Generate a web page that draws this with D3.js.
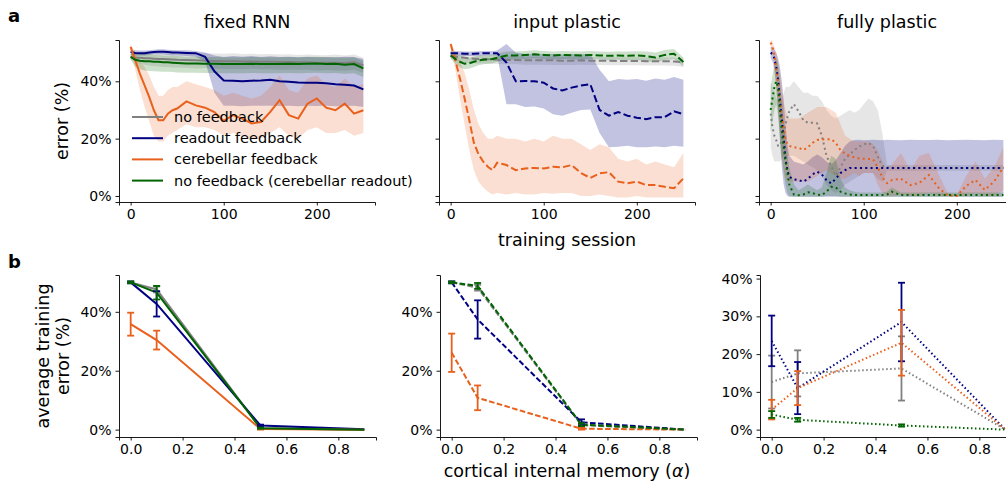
<!DOCTYPE html>
<html>
<head>
<meta charset="utf-8">
<script src="https://cdn.jsdelivr.net/npm/d3@7"></script>
<style>
  body { margin: 0; background: #fff; }
  svg text { font-family: "DejaVu Sans", sans-serif; fill: #000; }
</style>
</head>
<body>
<div id="fig"></div>
<script>
// ---- data: training curves (error %, mean and band) ----
var sessions = [0,5,10,15,20,25,30,35,40,45,50,60,70,80,90,100,110,120,130,140,150,160,170,180,190,200,210,220,230,240,250];
var sessionsFull = [0,2,4,6,8,10,12,14,16,18,20,25,30,35,40,45,50,55,60,65,70,75,80,85,90,95,100,105,110,115,120,125,130,140,150,160,170,180,190,200,210,220,230,240,250];

// fixed RNN
var fixedNoFb   = [48.5,48.3,48.2,48.0,48.0,47.9,47.8,47.8,47.7,47.6,47.5,47.4,47.3,47.2,47.1,47.0,47.0,46.9,46.9,46.8,46.8,46.7,46.7,46.6,46.6,46.5,46.5,46.5,46.4,46.6,45.5];
var fixedNoFbLo = [47.5,46.8,46.2,45.8,45.5,45.3,45.2,45.0,45.0,44.8,44.8,44.7,44.5,44.6,44.4,44.3,44.3,44.2,44.4,44.2,44.2,44.0,44.1,44.0,44.0,43.8,43.9,43.8,43.7,44.0,43.0];
var fixedNoFbHi = [49.5,49.8,50.0,50.0,50.2,50.0,50.0,50.2,50.0,50.1,50.0,49.8,49.9,49.8,49.7,49.6,49.8,49.5,49.6,49.4,49.5,49.3,49.4,49.2,49.3,49.2,49.1,49.3,49.0,49.3,48.2];
var fixedReadout   = [50.2,49.9,49.8,49.8,50.0,50.2,50.3,50.3,50.2,50.0,50.0,49.9,49.8,48.5,43.5,40.3,40.2,40.0,40.2,40.3,40.5,40.0,39.8,39.6,39.5,39.5,39.3,39.0,38.8,38.5,37.2];
var fixedReadoutLo = [49.0,49.0,49.0,49.0,49.2,49.3,49.3,49.3,49.2,49.0,49.0,48.8,48.6,47.0,36.0,31.5,31.5,31.3,31.5,31.5,31.5,31.4,31.5,31.3,31.5,31.4,31.5,31.3,31.4,31.5,31.0];
var fixedReadoutHi = [51.0,50.8,50.7,50.7,50.8,51.0,51.2,51.2,51.0,50.9,50.8,50.8,50.6,50.0,49.0,48.5,48.8,48.6,48.8,48.5,48.7,48.5,48.6,48.4,48.6,48.4,48.5,48.3,48.6,48.5,47.8];
var fixedCereb   = [52.0,47.3,42.6,38.6,34.5,29.9,26.4,26.4,28.7,29.9,30.5,33.0,31.6,30.8,29.3,26.2,28.2,27.0,25.3,25.8,29.3,33.4,28.2,27.0,32.2,34.0,30.8,29.9,32.2,28.7,29.9];
var fixedCerebLo = [51,44,37,31,26,21,19,19,21,22,23,25,24,24,23,21,22,21,20,20,22,24,21,20,23,24,22,22,23,21,22];
var fixedCerebHi = [53,50,47,45,42,38,35,35,37,38,38,40,39,38,37,35,36,35,34,35,38,42,37,36,41,42,39,38,41,38,39];
var fixedCbRead   = [48.5,47.5,47.2,47.0,47.0,46.8,46.8,46.6,46.6,46.5,46.4,46.2,46.2,46.1,46.1,46.0,46.0,46.0,46.1,46.0,46.0,46.0,46.1,46.0,46.1,46.2,46.0,46.1,45.8,46.0,44.5];
var fixedCbReadLo = [47.5,45.0,44.2,43.8,43.6,43.5,43.4,43.3,43.3,43.2,43.1,43.0,43.0,42.9,42.9,42.8,42.8,42.8,42.9,42.8,42.8,42.8,42.9,42.8,42.9,43.0,42.8,42.9,42.6,42.8,41.5];
var fixedCbReadHi = [49.5,49.5,49.7,49.5,49.4,49.2,49.2,49.0,49.0,48.9,48.8,48.6,48.6,48.5,48.5,48.4,48.4,48.4,48.5,48.4,48.4,48.4,48.5,48.4,48.5,48.6,48.4,48.5,48.2,48.4,47.0];

// input plastic
var inputNoFb   = [48.8,48.6,48.4,48.2,48.0,47.9,47.8,47.8,47.7,47.6,47.5,47.4,47.4,47.3,47.3,47.3,47.3,47.2,47.2,47.3,47.2,47.2,47.2,47.1,47.1,47.1,47.0,47.0,47.0,46.9,46.6];
var inputNoFbLo = [47.8,47.2,46.8,46.5,46.4,46.3,46.2,46.2,46.1,46.0,46.0,45.9,45.9,45.8,45.8,45.8,45.7,45.7,45.7,45.8,45.7,45.7,45.6,45.6,45.6,45.6,45.5,45.5,45.5,45.4,45.0];
var inputNoFbHi = [49.6,49.8,49.7,49.5,49.3,49.2,49.1,49.1,49.0,48.9,48.8,48.7,48.7,48.6,48.6,48.6,48.6,48.5,48.5,48.6,48.5,48.5,48.5,48.4,48.4,48.4,48.3,48.3,48.3,48.2,47.9];
var inputReadout   = [49.8,49.8,49.7,49.6,49.6,49.6,49.7,49.8,49.8,49.8,49.8,46.5,40.0,40.1,40.0,39.5,37.5,36.8,37.8,38.5,39.0,30.0,28.0,29.3,28.0,27.3,26.8,27.5,27.5,29.5,28.5];
var inputReadoutLo = [49.0,49.0,48.9,48.8,48.8,48.8,48.9,49.0,49.0,49.0,48.9,32.0,32.0,31.0,31.2,30.5,28.5,28.0,29.0,30.0,30.2,22.0,17.0,17.2,17.5,17.0,17.0,17.3,17.0,17.5,17.2];
var inputReadoutHi = [50.6,50.6,50.5,50.4,50.4,50.4,50.5,50.6,50.6,50.6,50.7,53.0,50.0,49.5,49.6,49.4,49.5,49.3,49.5,49.4,49.5,44.0,40.0,40.8,40.5,40.8,40.2,41.0,40.5,41.5,40.5];
var inputCereb   = [53.0,47.3,41.0,34.0,26.5,18.5,14.5,12.0,10.2,9.0,11.6,10.8,9.0,9.6,9.8,9.6,10.2,10.0,10.8,8.0,6.3,7.9,8.3,5.0,4.4,5.0,3.8,3.8,3.2,2.7,6.1];
var inputCerebLo = [52,44,34,25,16,9,5,3,1.5,0.5,1,0.5,1,0.5,0.5,1,0.8,1,1,0,0,0.5,0,-0.5,-0.5,0,-0.5,-0.5,-0.5,-0.5,-0.5];
var inputCerebHi = [54,50,47,43,37,30,25,22,20,20,21,20,20,19,20,19,21,20,20,18,16,18,17,13,12,13,11,12,11,10,15];
var inputCbRead   = [49.0,47.8,46.8,46.1,46.3,46.8,47.3,47.5,47.6,47.8,48.2,49.0,49.0,49.2,49.4,49.2,49.0,49.2,49.1,49.0,49.2,49.0,48.9,49.0,48.9,49.0,48.8,48.3,49.2,49.6,46.7];
var inputCbReadLo = [48.0,46.0,44.8,44.2,44.5,45.0,45.6,45.9,46.1,46.3,46.7,47.5,47.6,47.8,48.0,47.8,47.6,47.8,47.7,47.6,47.8,47.6,47.4,47.5,47.3,47.4,47.1,46.6,47.4,47.8,45.2];
var inputCbReadHi = [50.0,49.6,48.8,48.0,48.1,48.6,49.0,49.1,49.1,49.3,49.7,50.4,50.4,50.6,50.8,50.6,50.4,50.6,50.5,50.4,50.6,50.4,50.3,50.4,50.4,50.5,50.4,50.0,50.9,51.3,48.3];

// fully plastic
var fullNoFb   = [28.7,24,21,19.5,17.5,17.5,19.5,22,25,27.5,29.5,32,29.5,26.5,25.5,25.5,25.3,21,14,10.5,7,10,13,14.5,16,17.2,18,18.5,17.5,13.7,10.5,10,9.8,9.8,9.8,9.8,9.8,9.8,9.8,9.8,9.8,9.8,9.8,9.8,9.8];
var fullNoFbLo = [17,14,12,12,12,12,13,14,14,14,14,14,13,12,11,10,9,7,4,2,1,2,4,5,6,7,8,8,8,6,5,8.8,8.8,8.8,8.8,8.8,8.8,8.8,8.8,8.8,8.8,8.8,8.8,8.8,8.8];
var fullNoFbHi = [40,38,36,34,33,33,34,36,38,38,38,40,38,36,36,35,35,33,30,28,27,28,29,30,29,30,32,34,33,30,22,10.8,10.8,10.8,10.8,10.8,10.8,10.8,10.8,10.8,10.8,10.8,10.8,10.8,10.8];
var fullReadout   = [50,49.5,48,45,40.5,34,27,20,13,9,6.7,5.8,5.5,5,6,7.5,8.5,7.5,5.5,4.4,6,8,9,9.8,9.8,9.8,9.8,9.8,9.8,9.8,9.8,9.8,9.8,9.8,9.8,9.8,9.8,9.8,9.8,9.8,9.8,9.8,9.8,9.8,9.8];
var fullReadoutLo = [48,47,44,38,30,20,10,4,1,0,-0.3,-0.3,-0.3,-0.3,-0.3,-0.3,-0.3,-0.3,-0.3,-0.3,-0.3,-0.3,-0.3,-0.3,-0.3,-0.3,-0.3,-0.3,-0.3,-0.3,-0.3,-0.3,-0.3,-0.3,-0.3,-0.3,-0.3,-0.3,-0.3,-0.3,-0.3,-0.3,-0.3,-0.3,-0.3];
var fullReadoutHi = [52,52,51,50,48,45,40,33,25,18,14,12,11.5,11,12,13.5,14.5,13.5,12,11,12.5,15,17.5,19,19.5,19.6,19.4,19.5,19.6,19.5,19.4,19.6,19.5,19.4,19.6,19.5,19.5,19.6,19.4,19.5,19.6,19.5,19.4,19.6,19.5];
var fullCereb   = [53.5,52,49,44,39,33,28,24,20,18,17.5,16.9,16.9,16,17,18.5,19.5,19.7,19.8,19.8,18.5,16,14.8,14,13.5,13.1,13,12.9,12.8,10,6.5,4.5,5.5,6,3.8,4.6,7.3,3,0.2,0,3.5,5.6,2.1,5,10];
var fullCerebLo = [52,50,45,38,30,22,14,9,6,5,5,5,5,5,5,6,7,8,9,8,7,6,6,7,8,7,8,8,8,4,1,0,0,0.5,0,0,1,0,0,0,0,1,0,0,2];
var fullCerebHi = [55,54,52,50,47,43,38,33,30,28,27,27,27,28,29,30,31,31,31,30,29,25,21,20,19,19,19,19,18,16,12,9,11,15,9,14,15,8,1,0.5,7,12,6,10,17];
var fullCbRead   = [30,34,38,40,38,30,23,17,12,8,4,0.5,0.3,0.5,1.3,1,0.5,0.3,1.5,3.2,3,1.5,0.9,0.5,0.3,0.3,0.3,0.3,0.3,0.3,0.3,0.5,1.5,0.3,0.3,0.3,0.3,0.3,0.3,0.3,0.3,0.3,0.3,0.3,0.3];
var fullCbReadLo = [22,26,30,32,28,20,13,8,4,1,0,-0.3,-0.3,-0.3,-0.3,-0.3,-0.3,-0.3,0,0,0,-0.3,-0.3,-0.3,-0.3,-0.3,-0.3,-0.3,-0.3,-0.3,-0.3,-0.3,-0.3,-0.3,-0.3,-0.3,-0.3,-0.3,-0.3,-0.3,-0.3,-0.3,-0.3,-0.3,-0.3];
var fullCbReadHi = [38,42,46,48,46,40,33,26,20,15,10,4,2,3,4,3,2,3,8,14,13,6,3,2,1.5,1.2,1.2,1.2,1.2,1.2,1.2,1.5,3,1.2,1.2,1.2,1.2,1.2,1.2,1.2,1.2,1.2,1.2,1.2,1.2];

// ---- data: average training error vs cortical internal memory ----
var alphas = [0, 0.1, 0.5, 0.9];
var avgFixedNoFb      = [50, 47.6, 0.5, 0];    var errFixedNoFb      = [0.3, 1.0, 0.2, 0];
var avgFixedReadout   = [50, 42.7, 1.4, 0.1];  var errFixedReadout   = [0.3, 4.3, 0.3, 0];
var avgFixedCereb     = [35.8, 30.4, 0.2, 0];  var errFixedCereb     = [3.9, 3.2, 0.2, 0];
var avgFixedCbRead    = [50, 46.5, 0.5, 0];    var errFixedCbRead    = [0.3, 2.3, 0.2, 0];
var avgInputNoFb      = [50, 48.2, 1.5, 0];    var errInputNoFb      = [0.3, 1.0, 0.5, 0];
var avgInputReadout   = [50, 37.4, 2.5, 0];    var errInputReadout   = [0.3, 6.5, 1.0, 0];
var avgInputCereb     = [26.1, 10.8, 0.3, 0];  var errInputCereb     = [6.5, 4.2, 0.3, 0];
var avgInputCbRead    = [50, 48.8, 1.7, 0];    var errInputCbRead    = [0.3, 1.0, 0.5, 0];
var avgFullNoFb       = [12.6, 14.9, 16.2, 0]; var errFullNoFb       = [7.0, 6.1, 8.5, 0];
var avgFullReadout    = [23.5, 11.0, 28.5, 0]; var errFullReadout    = [6.7, 6.9, 10.4, 0];
var avgFullCereb      = [5.3, 11.0, 23.0, 0];  var errFullCereb      = [2.6, 4.5, 8.7, 0];
var avgFullCbRead     = [4.0, 2.6, 1.1, 0];    var errFullCbRead     = [0.9, 0.5, 0.3, 0];

var seriesNames = ["no feedback", "readout feedback", "cerebellar feedback", "no feedback (cerebellar readout)"];
var colors = ["#808080", "#000080", "#e8601c", "#006400"];
var panelTitles = ["fixed RNN", "input plastic", "fully plastic"];
var sessionTicks = [0, 100, 200];
var errorTicks = [0, 20, 40];
var errorTicksFull = [0, 10, 20, 30, 40];
var alphaTicks = [0, 0.2, 0.4, 0.6, 0.8];

// ---- layout ----
var svg = d3.select("#fig").append("svg")
  .attr("width", 1006)
  .attr("height", 486);

var dashes = [null, "7.4,3.2", "2,3.3"];
var dashesB = [null, "5.6,2.4", "1.5,2.5"];
var colX = [[119, 375], [439, 695], [759, 1015]];
var colXb = [[119, 376], [440, 697], [760, 1017]];
var labelSize = "17.5px", tickSize = "14px";

var fmtPct = function(d) { return d + "%"; };

// draw an axes frame (left + bottom spines) and return its scales
function makeAxes(id, xr, yr, xdom, ydom, xt, yt, xfmt, showYLabels) {
  var x = d3.scaleLinear().domain(xdom).range(xr),
    y = d3.scaleLinear().domain(ydom).range(yr);
  var g = svg.append("g").attr("class", "ax");
  g.append("clipPath").attr("id", id)
    .append("rect")
    .attr("x", xr[0]).attr("y", yr[1])
    .attr("width", xr[1] - xr[0]).attr("height", yr[0] - yr[1]);
  var plot = g.append("g").attr("clip-path", "url(#" + id + ")");

  var xa = g.append("g")
    .attr("transform", "translate(0," + yr[0] + ")")
    .call(d3.axisBottom(x).tickValues(xt).tickFormat(xfmt).tickSizeOuter(0).tickSize(3.5).tickPadding(4));
  var ya = g.append("g")
    .attr("transform", "translate(" + xr[0] + ",0)")
    .call(d3.axisLeft(y).tickValues(yt).tickFormat(showYLabels ? fmtPct : "").tickSizeOuter(0).tickSize(3.5).tickPadding(4));
  [xa, ya].forEach(function(a) {
    a.selectAll("path.domain").attr("stroke", "#000").attr("stroke-width", 0.9);
    a.selectAll(".tick line").attr("stroke", "#000").attr("stroke-width", 0.9);
    a.selectAll(".tick text").style("font-size", tickSize).attr("fill", "#000");
  });
  return {x: x, y: y, plot: plot};
}

// ---- row a: training curves ----
var topData = [
  [[fixedNoFb, fixedNoFbLo, fixedNoFbHi], [fixedReadout, fixedReadoutLo, fixedReadoutHi],
   [fixedCereb, fixedCerebLo, fixedCerebHi], [fixedCbRead, fixedCbReadLo, fixedCbReadHi]],
  [[inputNoFb, inputNoFbLo, inputNoFbHi], [inputReadout, inputReadoutLo, inputReadoutHi],
   [inputCereb, inputCerebLo, inputCerebHi], [inputCbRead, inputCbReadLo, inputCbReadHi]],
  [[fullNoFb, fullNoFbLo, fullNoFbHi], [fullReadout, fullReadoutLo, fullReadoutHi],
   [fullCereb, fullCerebLo, fullCerebHi], [fullCbRead, fullCbReadLo, fullCbReadHi]]
];

topData.forEach(function(panel, p) {
  var xs = p === 2 ? sessionsFull : sessions;
  var ax = makeAxes("clipA" + p, colX[p], [202, 40], [-12.5, 262.5], [-2.1, 54.4],
    sessionTicks, errorTicks, d3.format("d"), p === 0);

  // bands first
  panel.forEach(function(s, i) {
    var rows = xs.map(function(t, k) { return {t: t, lo: s[1][k], hi: s[2][k]}; });
    ax.plot.append("path")
      .datum(rows)
      .attr("fill", colors[i])
      .attr("fill-opacity", i === 1 ? 0.24 : 0.2)
      .attr("d", d3.area()
        .x(function(d) { return ax.x(d.t); })
        .y0(function(d) { return ax.y(d.lo); })
        .y1(function(d) { return ax.y(d.hi); }));
  });
  // mean lines
  panel.forEach(function(s, i) {
    var rows = xs.map(function(t, k) { return {t: t, v: s[0][k]}; });
    ax.plot.append("path")
      .datum(rows)
      .attr("fill", "none")
      .attr("stroke", colors[i])
      .attr("stroke-width", 2)
      .attr("stroke-dasharray", dashes[p])
      .attr("d", d3.line()
        .x(function(d) { return ax.x(d.t); })
        .y(function(d) { return ax.y(d.v); }));
  });

  svg.append("text")
    .attr("x", (colX[p][0] + colX[p][1]) / 2)
    .attr("y", 28)
    .attr("text-anchor", "middle")
    .style("font-size", labelSize)
    .text(panelTitles[p]);
});

// legend in the first panel
var legend = svg.append("g");
seriesNames.forEach(function(name, i) {
  var yy = 117 + i * 21.2;
  legend.append("line")
    .attr("x1", 132).attr("x2", 163)
    .attr("y1", yy).attr("y2", yy)
    .attr("stroke", colors[i]).attr("stroke-width", 2);
  legend.append("text")
    .attr("x", 174).attr("y", yy + 5)
    .style("font-size", "14.5px")
    .text(name);
});

// ---- row b: average training error ----
var bottomData = [
  [[avgFixedNoFb, errFixedNoFb], [avgFixedReadout, errFixedReadout], [avgFixedCereb, errFixedCereb], [avgFixedCbRead, errFixedCbRead]],
  [[avgInputNoFb, errInputNoFb], [avgInputReadout, errInputReadout], [avgInputCereb, errInputCereb], [avgInputCbRead, errInputCbRead]],
  [[avgFullNoFb, errFullNoFb], [avgFullReadout, errFullReadout], [avgFullCereb, errFullCereb], [avgFullCbRead, errFullCbRead]]
];

bottomData.forEach(function(panel, p) {
  var ydom = p === 2 ? [-1.95, 40.95] : [-2.5, 52.5];
  var ax = makeAxes("clipB" + p, colXb[p], [437, 275], [-0.045, 0.945], ydom,
    alphaTicks, p === 2 ? errorTicksFull : errorTicks, d3.format(".1f"), true);

  panel.forEach(function(s, i) {
    var rows = alphas.map(function(a, k) { return {a: a, v: s[0][k], e: s[1][k]}; });
    ax.plot.append("path")
      .datum(rows)
      .attr("fill", "none")
      .attr("stroke", colors[i])
      .attr("stroke-width", 2)
      .attr("stroke-dasharray", dashesB[p])
      .attr("d", d3.line()
        .x(function(d) { return ax.x(d.a); })
        .y(function(d) { return ax.y(d.v); }));

    var eb = svg.append("g").attr("stroke", colors[i]).attr("stroke-width", 1.8);
    rows.filter(function(d) { return d.e > 0; }).forEach(function(d) {
      var cx = ax.x(d.a), y0 = ax.y(d.v - d.e), y1 = ax.y(d.v + d.e);
      eb.append("line").attr("x1", cx).attr("x2", cx).attr("y1", y0).attr("y2", y1);
      eb.append("line").attr("x1", cx - 3.5).attr("x2", cx + 3.5).attr("y1", y0).attr("y2", y0);
      eb.append("line").attr("x1", cx - 3.5).attr("x2", cx + 3.5).attr("y1", y1).attr("y2", y1);
    });
  });
});

// ---- labels ----
svg.append("text").attr("x", 8).attr("y", 22)
  .style("font-size", "18px").style("font-weight", "bold").text("a");
svg.append("text").attr("x", 8).attr("y", 268)
  .style("font-size", "18px").style("font-weight", "bold").text("b");

svg.append("text")
  .attr("transform", "translate(68,121) rotate(-90)")
  .attr("text-anchor", "middle")
  .style("font-size", labelSize)
  .text("error (%)");

svg.append("text")
  .attr("transform", "translate(49,356) rotate(-90)")
  .attr("text-anchor", "middle")
  .style("font-size", labelSize)
  .text("average training");
svg.append("text")
  .attr("transform", "translate(69,356) rotate(-90)")
  .attr("text-anchor", "middle")
  .style("font-size", labelSize)
  .text("error (%)");

svg.append("text")
  .attr("x", 567).attr("y", 246)
  .attr("text-anchor", "middle")
  .style("font-size", labelSize)
  .text("training session");

var xl = svg.append("text")
  .attr("x", 567).attr("y", 477)
  .attr("text-anchor", "middle")
  .style("font-size", labelSize);
xl.append("tspan").text("cortical internal memory (");
xl.append("tspan").style("font-style", "italic").text("α");
xl.append("tspan").text(")");
</script>
</body>
</html>
